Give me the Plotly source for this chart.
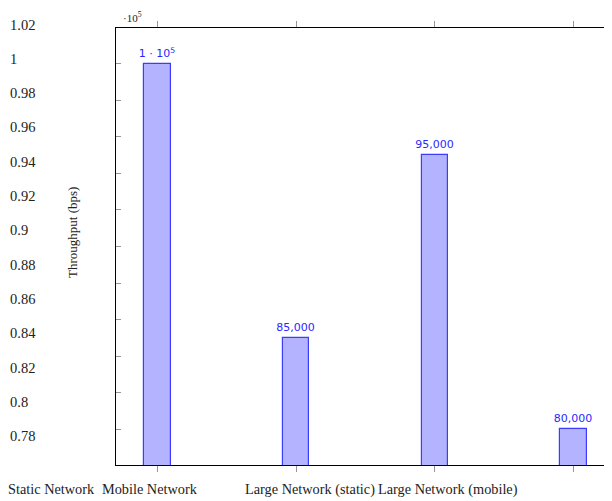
import plotly.graph_objects as go

# ---------------- data ----------------
categories = ["Static Network", "Mobile Network", "Large Network (static)", "Large Network (mobile)"]
throughput = [100000, 85000, 95000, 80000]
y_ticks = [0.78, 0.80, 0.82, 0.84, 0.86, 0.88, 0.90, 0.92, 0.94, 0.96, 0.98, 1.00, 1.02]
y_tick_labels = ["0.78", "0.8", "0.82", "0.84", "0.86", "0.88", "0.9", "0.92", "0.94", "0.96", "0.98", "1", "1.02"]
scale_exp = 5

# ---------------- layout constants ----------------
W, H = 612, 501
OFF = 8                              # page body margin
PL, PR, PT, PB = 116, 613, 28, 465   # plot area in window pixels
PH = PB - PT
SERIF = "Liberation Serif"
BAR_FILL = "rgb(179,179,255)"
BAR_LINE = "rgb(60,60,255)"
TICK_GRAY = "rgb(150,150,150)"


def px_x(px):
    return (px - OFF) / W


def px_y(py):
    return (PB - py) / PH


def fmt(v):
    e = len(str(int(v))) - 1
    if v == 10 ** e:
        return "1 · 10<sup>%d</sup>" % e
    return "{:,}".format(int(v))


scale = 10 ** scale_exp
xs = list(range(len(categories)))
ys = [v / scale for v in throughput]

fig = go.Figure()
fig.add_trace(go.Bar(
    x=xs, y=ys, width=0.19,
    marker=dict(color=BAR_FILL, line=dict(color=BAR_LINE, width=1.2)),
    text=[fmt(v) for v in throughput],
    textposition="outside",
    constraintext="none",
    textfont=dict(family="DejaVu Sans", size=11, color="rgb(40,40,255)"),
    cliponaxis=False,
    hoverinfo="skip",
))

xr = [-0.3, 3.284]
yr = [0.7803, 1.0197]

annotations = []
# y tick labels (rendered in their own column on the left)
for v, lab in zip(y_ticks, y_tick_labels):
    py = 24.5 + (1.02 - v) / 0.02 * 34.3
    annotations.append(dict(text=lab, xref="paper", yref="paper",
                            x=px_x(8), y=px_y(py), xanchor="left", yanchor="middle",
                            showarrow=False, font=dict(family=SERIF, size=14.5, color="#222")))
# x category labels
label_centers = [51, 149.5, 309.5, 448]
for lab, cx in zip(categories, label_centers):
    annotations.append(dict(text=lab, xref="paper", yref="paper",
                            x=px_x(cx), y=px_y(489), xanchor="center", yanchor="middle",
                            showarrow=False, font=dict(family=SERIF, size=14.3, color="#222")))
# axis title
annotations.append(dict(text="Throughput (bps)", xref="paper", yref="paper",
                        x=px_x(72), y=px_y(233), xanchor="center", yanchor="middle",
                        textangle=-90, showarrow=False,
                        font=dict(family=SERIF, size=13, color="#222")))
# scale factor
annotations.append(dict(text="·10<sup>%d</sup>" % scale_exp, xref="paper", yref="paper",
                        x=px_x(121), y=px_y(OFF), xanchor="left", yanchor="top",
                        showarrow=False, font=dict(family=SERIF, size=11, color="#222")))

fig.update_layout(
    width=W, height=H,
    margin=dict(l=0, r=0, t=PT - OFF, b=H - (PB - OFF), pad=0),
    paper_bgcolor="white", plot_bgcolor="white",
    showlegend=False,
    bargap=0,
    annotations=annotations,
    xaxis=dict(domain=[(PL - OFF) / W, (PR - OFF) / W], range=xr, tickvals=xs, showticklabels=False,
               ticks="outside", ticklen=6, tickcolor=TICK_GRAY, tickwidth=1,
               showline=True, mirror="ticks", linecolor="black", linewidth=1.3,
               showgrid=False, zeroline=False, fixedrange=True),
    yaxis=dict(range=yr, tickvals=y_ticks, showticklabels=False,
               ticks="inside", ticklen=5, tickcolor=TICK_GRAY, tickwidth=1,
               showline=True, mirror="ticks", linecolor="black", linewidth=1.3,
               showgrid=False, zeroline=False, fixedrange=True),
)

fig.write_html("out.html")
